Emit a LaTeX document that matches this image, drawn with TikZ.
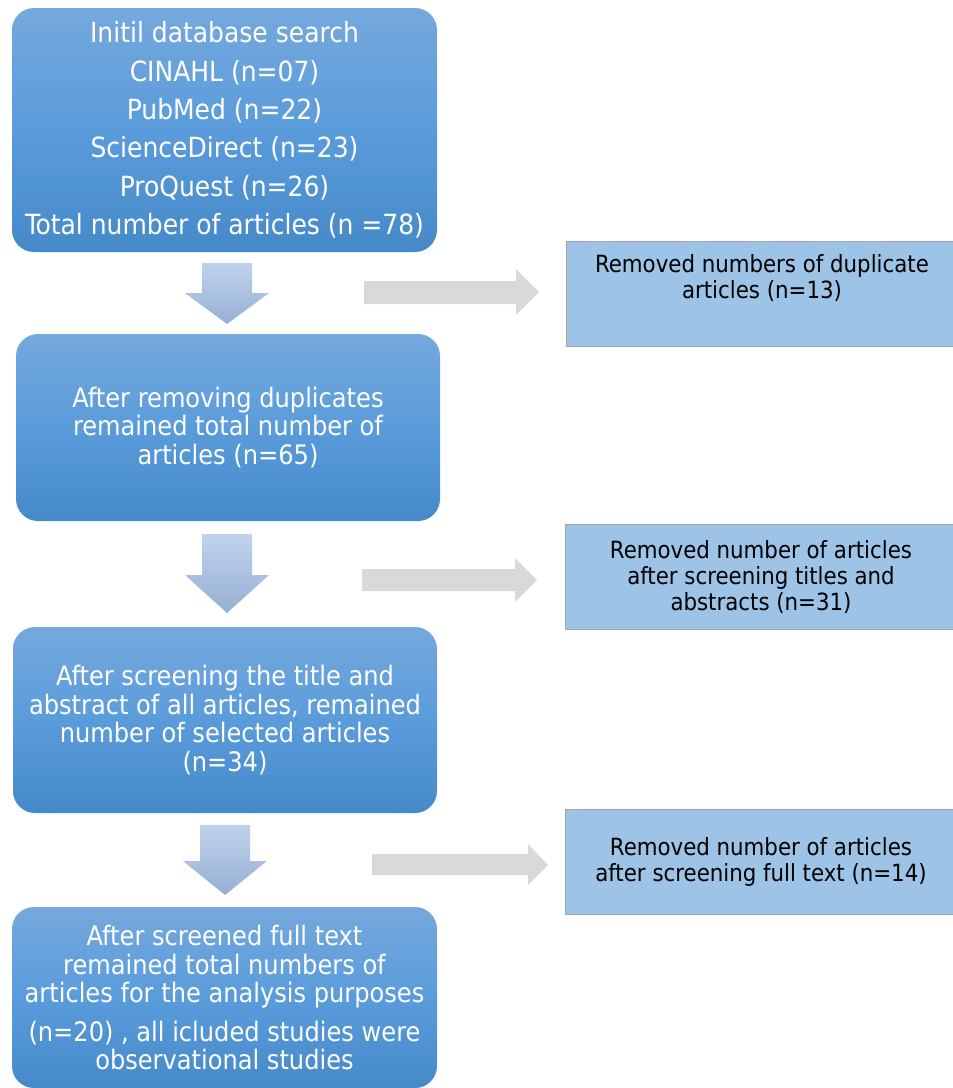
\documentclass[tikz,border=0pt]{standalone}
\usepackage{fontspec}
\setmainfont{DejaVu Sans Condensed}

\definecolor{boxtop}{HTML}{75A8DD}
\definecolor{boxmid}{HTML}{5A9CDB}
\definecolor{boxbot}{HTML}{4689C9}
\definecolor{sidefill}{HTML}{9DC3E6}
\definecolor{sideline}{HTML}{A5A5A5}
\definecolor{arrtop}{HTML}{C0D3EC}
\definecolor{arrbot}{HTML}{97AFD4}
\definecolor{greyarr}{HTML}{D9D9D9}

\begin{document}
\begin{tikzpicture}[x=1pt,y=-1pt]
        \tikzstyle{stage}=[rounded corners=22pt, top color=boxtop, bottom color=boxbot, middle color=boxmid, text=white, align=center, inner sep=0pt, font=\fontsize{26.8}{28.5}\selectfont]
        \tikzstyle{removed}=[draw=sideline, line width=1pt, fill=sidefill, align=center, inner sep=0pt, minimum width=392pt, minimum height=105pt, font=\fontsize{23.7}{26.3}\selectfont]
        \tikzstyle{down}=[top color=arrtop, bottom color=arrbot]
        \tikzstyle{side}=[fill=greyarr]
        \useasboundingbox (0,0) rectangle (953,1088);
        % main column
        \node[stage, minimum width=425pt, minimum height=244pt, font=\fontsize{27.8}{38.4}\selectfont] (search) at (224.5,130) {Initil database search\\CINAHL (n=07)\\PubMed (n=22)\\ScienceDirect (n=23)\\ProQuest (n=26)\\Total number of articles (n =78)};
        \node[stage, minimum width=424pt, minimum height=187pt] (dedup) at (228,427.5) {After removing duplicates\\remained total number of\\articles (n=65)};
        \node[stage, minimum width=424pt, minimum height=186pt] (screen) at (225,720) {After screening the title and\\abstract of all articles, remained\\number of selected articles\\(n=34)};
        \node[stage, minimum width=425pt, minimum height=181pt] (final) at (224.5,997.5) {After screened full text\\remained total numbers of\\articles for the analysis purposes\\[10pt](n=20) , all icluded studies were\\observational studies};
        % side column
        \node[removed] (dup) at (762,293.5) {Removed numbers of duplicate\\articles (n=13)\\\strut};
        \node[removed] (title) at (761,577) {Removed number of articles\\after screening titles and\\abstracts (n=31)};
        \node[removed] (full) at (761,862) {Removed number of articles\\after screening full text (n=14)};
        % block arrows
        \coordinate (d1) at (227,263);
        \coordinate (d2) at (227,534);
        \coordinate (d3) at (225,825);
        \shade[down] (d1) ++(-25,0) -- ++(50,0) -- ++(0,30) -- ++(17,0) -- ++(-42,31) -- ++(-42,-31) -- ++(17,0) -- cycle;
        \shade[down] (d2) ++(-25,0) -- ++(50,0) -- ++(0,41) -- ++(17,0) -- ++(-42,38) -- ++(-42,-38) -- ++(17,0) -- cycle;
        \shade[down] (d3) ++(-25,0) -- ++(50,0) -- ++(0,36) -- ++(17,0) -- ++(-42,34) -- ++(-42,-34) -- ++(17,0) -- cycle;
        \coordinate (s1) at (364,281);
        \coordinate (s2) at (362,569);
        \coordinate (s3) at (372,854);
        \fill[side] (s1) -- ++(152,0) -- ++(0,-12) -- ++(23,23) -- ++(-23,23) -- ++(0,-11) -- ++(-152,0) -- cycle;
        \fill[side] (s2) -- ++(153,0) -- ++(0,-11) -- ++(22,22) -- ++(-22,22) -- ++(0,-11) -- ++(-153,0) -- cycle;
        \fill[side] (s3) -- ++(156,0) -- ++(0,-10) -- ++(20,21) -- ++(-20,20) -- ++(0,-10) -- ++(-156,0) -- cycle;
\end{tikzpicture}
\end{document}
